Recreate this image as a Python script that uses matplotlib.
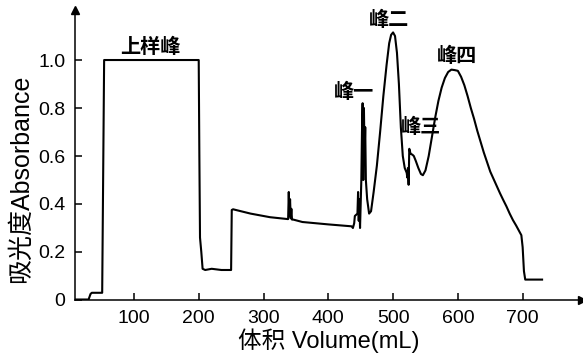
import numpy as np
import matplotlib
matplotlib.use("Agg")
import matplotlib.pyplot as plt

# 洗脱曲线数据 (体积 mL, 吸光度)
volume = [10, 30, 33, 35, 51, 54, 120, 200, 201, 202, 204, 206, 210, 220, 235, 250,
          251, 253, 280, 310, 338, 339, 340, 341, 342, 343, 344, 346, 360, 400, 436,
          438, 440, 441, 445, 446, 447, 448, 449, 451, 452, 453, 454, 455, 456, 457,
          458, 460, 463, 466, 470, 475, 480, 485, 490, 494, 497, 500, 503, 506, 509,
          512, 515, 518, 521, 522, 523, 524, 525, 527, 530, 532, 535, 539, 543, 546,
          550, 555, 560, 565, 570, 575, 580, 585, 590, 595, 600, 605, 610, 615, 620,
          625, 630, 635, 640, 645, 650, 655, 660, 665, 670, 675, 680, 685, 690, 695,
          698, 700, 702, 704, 730]
absorbance = [0.002, 0.002, 0.025, 0.03, 0.03, 1.0, 1.0, 1.0, 0.6, 0.26, 0.2, 0.13, 0.125,
              0.13, 0.125, 0.125, 0.375, 0.378, 0.36, 0.345, 0.337, 0.45, 0.35, 0.42,
              0.34, 0.38, 0.335, 0.335, 0.325, 0.315, 0.307, 0.30, 0.32, 0.35, 0.36,
              0.45, 0.33, 0.42, 0.30, 0.50, 0.70, 0.82, 0.50, 0.80, 0.60, 0.72, 0.50,
              0.42, 0.36, 0.37, 0.45, 0.56, 0.70, 0.85, 0.98, 1.07, 1.105, 1.115, 1.10,
              1.03, 0.90, 0.72, 0.60, 0.55, 0.53, 0.51, 0.55, 0.48, 0.63, 0.61, 0.605,
              0.60, 0.58, 0.55, 0.525, 0.52, 0.54, 0.60, 0.68, 0.76, 0.83, 0.885, 0.925,
              0.95, 0.96, 0.958, 0.955, 0.93, 0.895, 0.85, 0.80, 0.755, 0.705, 0.66,
              0.615, 0.575, 0.535, 0.505, 0.475, 0.445, 0.417, 0.39, 0.36, 0.333, 0.31,
              0.285, 0.27, 0.22, 0.12, 0.085, 0.085]

x_ticks = [100, 200, 300, 400, 500, 600, 700]
y_ticks = [0, 0.2, 0.4, 0.6, 0.8, 1.0]
y_tick_labels = ["0", "0.2", "0.4", "0.6", "0.8", "1.0"]

peak_names = ["上样峰", "峰一", "峰二", "峰三", "峰四"]
peak_x = [125, 439, 493, 543, 598]
peak_y = [1.055, 0.87, 1.167, 0.725, 1.02]

FONTS = ["Liberation Sans", "Noto Sans CJK SC", "DejaVu Sans"]
plt.rcParams["font.family"] = FONTS

fig = plt.figure(figsize=(5.83, 3.57), dpi=100)
ax = fig.add_axes([0.1286, 0.1597, 0.869, 0.812])

ax.plot(volume, absorbance, color="black", lw=1.5)

ax.set_xlim(9, 791)
ax.set_ylim(0, 1.208)

for s in ["top", "right"]:
    ax.spines[s].set_visible(False)
for s in ["left", "bottom"]:
    ax.spines[s].set_linewidth(1.1)

# 坐标轴箭头
ax.plot(1, 0, ">k", ms=6, transform=ax.transAxes, clip_on=False)
ax.plot(0, 1, "^k", ms=6, transform=ax.transAxes, clip_on=False)

ax.set_xticks(x_ticks)
ax.set_yticks(y_ticks)
ax.set_yticklabels(y_tick_labels)
ax.tick_params(direction="in", length=5, width=1.1, labelsize=14, pad=7)

ax.set_xlabel("体积 Volume(mL)", fontsize=17, labelpad=1)
ax.set_ylabel("吸光度Absorbance", fontsize=18)
ax.yaxis.set_label_coords(-0.083, 0.417)

for name, px, py in zip(peak_names, peak_x, peak_y):
    ax.text(px, py, name, ha="center", va="center", fontsize=14.5,
            fontweight="bold", family=["Noto Sans CJK SC", "DejaVu Sans"])

fig.savefig("out.png", dpi=100)
